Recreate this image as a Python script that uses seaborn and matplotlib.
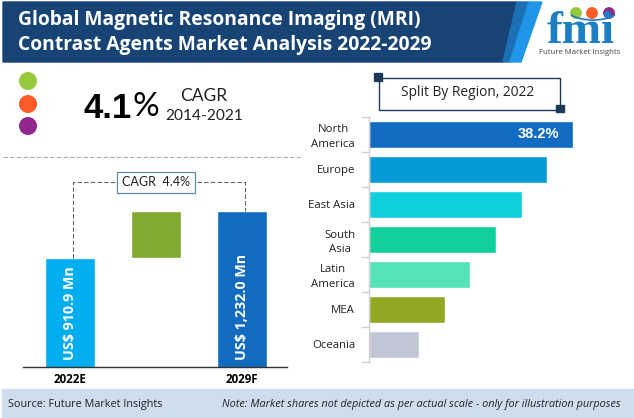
import numpy as np
import pandas as pd
import matplotlib
matplotlib.use("Agg")
import matplotlib.pyplot as plt
from matplotlib.patches import Arc, Circle, Polygon, Rectangle
import seaborn as sns


W, H = 634, 418

TITLE_LINES = ["Global Magnetic Resonance Imaging (MRI)", "Contrast Agents Market Analysis 2022-2029"]

YEARS = ["2022E", " ", "2029F"]
MARKET_VALUES = [910.9, 1232.0]
VALUE_LABELS = ["US$ 910.9 Mn", "US$ 1,232.0 Mn"]

REGIONS = ["North\nAmerica", "Europe", "East Asia", "South\nAsia", "Latin\nAmerica", "MEA", "Oceania"]
REGION_SHARES = [38.2, 33.3, 28.6, 23.8, 18.9, 14.2, 9.4]
REGION_COLORS = ["#116BC1", "#069BD8", "#0FD0DC", "#12D09B", "#55E2B8", "#90A823", "#C0C6D4"]


def px_axes(fig, x0, y0, x1, y1):
    # pixel box, y counted from the top like in the picture
    return fig.add_axes([x0 / W, 1 - y1 / H, (x1 - x0) / W, (y1 - y0) / H])


def draw_header(bg):
    bg.add_patch(Polygon([(3, 2), (517, 2), (503, 62), (3, 62)], color="#174475"))
    bg.add_patch(Polygon([(517, 2), (529, 2), (510, 62), (503, 62)], color="#1A6FB5"))
    bg.add_patch(Polygon([(529, 2), (542, 2), (521, 62), (510, 62)], color="#2196E8"))
    for text, y in zip(TITLE_LINES, [20, 45]):
        bg.text(18, y, text, color="white", fontsize=13.9, fontfamily="Open Sans", fontweight="bold", va="center")

    # logo
    bg.text(581, 43, "fmi", color="#1C7FC4", fontsize=34, fontfamily="Liberation Serif", fontweight="bold", ha="center", va="baseline")
    for y in [23, 28, 33, 38]:
        bg.plot([540, 624], [y, y], color="white", lw=0.8)
    bg.add_patch(Rectangle((600, 6), 20, 14, color="white"))
    for x, c in [(576, "#96C93D"), (592, "#FF5B27"), (609, "#92278F")]:
        bg.add_patch(Circle((x, 13), 5.2, color=c))
    bg.add_patch(Arc((593, 9), 52, 22, theta1=15, theta2=165, color="#1C7FC4", lw=1.2))
    bg.text(580, 52, "Future Market Insights", color="#444444", fontsize=5.6, fontfamily="Open Sans", ha="center", va="center")


def draw_cagr(bg):
    for y, c in zip([81, 104, 126], ["#96C93D", "#FF5B27", "#92278F"]):
        bg.add_patch(Circle((28, y), 8.3, color=c))
    bg.text(83, 108, "4.1", color="black", fontsize=25, fontfamily="Liberation Sans", fontweight="bold", va="center")
    bg.text(132, 107, "%", color="black", fontsize=24, fontfamily="Lato", va="center")
    bg.text(204, 96, "CAGR", color="#222222", fontsize=12.5, fontfamily="Lato", ha="center", va="center")
    bg.text(204, 116, "2014-2021", color="#222222", fontsize=11.2, fontfamily="Lato", ha="center", va="center")
    bg.plot([3, 300], [156.5, 156.5], color="#AAAAAA", lw=0.8, ls=(0, (4, 2)))


def draw_market(fig):
    ax = px_axes(fig, 23, 170, 287, 367)
    sns.barplot(x=YEARS, y=[MARKET_VALUES[0], np.nan, MARKET_VALUES[1]], hue=YEARS,
                palette=["#00AEEF", "#FFFFFF", "#116BC1"], saturation=1, width=50 / 86, legend=False, ax=ax)
    sns.barplot(x=YEARS, y=[np.nan, MARKET_VALUES[1] - MARKET_VALUES[0], np.nan], color="#7FA92F",
                saturation=1, bottom=MARKET_VALUES[0], width=50 / 86, ax=ax)
    ax.set_xlim(-47 / 86, 2 + 45 / 86)
    ax.set_ylim(166, 1511)
    sns.despine(ax=ax, left=True)
    ax.spines["bottom"].set_color("#333333")
    ax.spines["bottom"].set_linewidth(1.0)
    ax.set_yticks([])
    ax.set_xticks([0, 2], ["2022E", "2029F"], fontsize=8.3, fontweight="bold", fontfamily="Open Sans", color="black")
    ax.tick_params(axis="x", length=0, pad=4)
    ax.patch.set_alpha(0)

    top = 1426
    ax.plot([0.03, 0.03, 2.03, 2.03], [MARKET_VALUES[0], top, top, MARKET_VALUES[1]],
            color="#666666", lw=0.8, ls=(0, (4, 2)), clip_on=False)
    for i, (value, label) in enumerate(zip(MARKET_VALUES, VALUE_LABELS)):
        ax.text(i * 2, 166 + 50, label, color="white", rotation=90, fontsize=10.3, fontweight="bold",
                fontfamily="Open Sans", ha="center", va="bottom")
    ax.text(1.0, top, "CAGR  4.4%", color="#222222", fontsize=9, fontfamily="Lato", ha="center", va="center",
            bbox=dict(boxstyle="square,pad=0.38", fc="white", ec="#5B8DB0", lw=0.9))


def draw_regions(fig, bg):
    ax = px_axes(fig, 369, 116.5, 600, 361.5)
    data = pd.DataFrame({"region": REGIONS, "share": REGION_SHARES})
    sns.barplot(data=data, x="share", y="region", hue="region", palette=REGION_COLORS, saturation=1,
                width=27 / 35, legend=False, ax=ax)
    ax.set_xlim(0, 231 / 5.34)
    ax.set_ylim(6.5, -0.5)
    ax.set_xlabel("")
    ax.set_ylabel("")
    ax.set_xticks([])
    sns.despine(ax=ax, bottom=True)
    ax.spines["left"].set_color("#D0D0D0")
    ax.spines["left"].set_linewidth(1.0)
    ax.set_yticks(np.arange(-0.5, 7), minor=True)
    ax.tick_params(axis="y", which="minor", left=True, length=6, color="#D0D0D0", width=1)
    ax.tick_params(axis="y", which="major", length=0, pad=10)
    for label in ax.get_yticklabels():
        label.set_fontsize(8.2)
        label.set_fontfamily("Open Sans")
        label.set_color("#222222")
        label.set_multialignment("center")
        label.set_linespacing(1.45)
    ax.text(REGION_SHARES[0] - 2.6, 0, f"{REGION_SHARES[0]}%", color="white", fontsize=10.5,
            fontfamily="Liberation Sans", fontweight="bold", ha="right", va="center")
    ax.patch.set_alpha(0)

    bg.add_patch(Rectangle((378.5, 77.5), 181.5, 32, fc="none", ec="#1B3A57", lw=1))
    for x, y in [(378, 77), (560, 108.5)]:
        bg.add_patch(Rectangle((x - 4, y - 4), 8, 7.5, color="#1B3A57", zorder=3))
    bg.text(468, 93, "Split By Region, 2022", color="#222222", fontsize=9.9, fontfamily="Open Sans", ha="center", va="center")


def main():
    sns.set_theme(style="white")

    fig = plt.figure(figsize=(W / 100, H / 100), dpi=100, facecolor="white")
    bg = fig.add_axes([0, 0, 1, 1])
    bg.set_xlim(0, W)
    bg.set_ylim(H, 0)
    bg.axis("off")

    draw_header(bg)
    draw_cagr(bg)
    draw_market(fig)
    draw_regions(fig, bg)

    bg.add_patch(Rectangle((2, 389), 632, 29, color="#CFDDEF"))
    bg.text(8, 404, "Source: Future Market Insights", color="#222222", fontsize=7.8, fontfamily="Open Sans", va="center")
    bg.text(621, 404, "Note: Market shares not depicted as per actual scale - only for illustration purposes",
            color="#222222", fontsize=7.8, fontfamily="Open Sans", style="italic", ha="right", va="center")

    fig.savefig("out.png", dpi=100)
    plt.close(fig)


if __name__ == "__main__":
    main()
